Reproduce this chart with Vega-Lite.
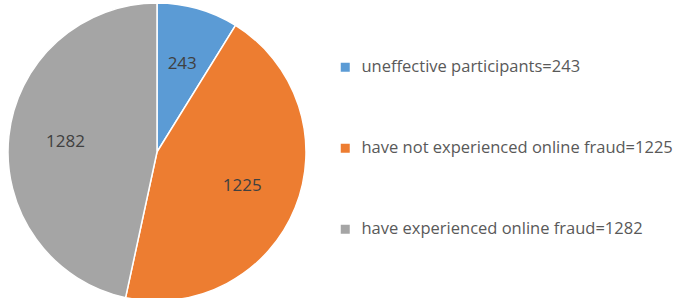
{
  "$schema": "https://vega.github.io/schema/vega-lite/v6.json",
  "width": 314,
  "height": 298,
  "autosize": {"type": "pad"},
  "padding": 0,
  "background": "white",
  "data": {
    "values": [
      {"category": "uneffective participants=243", "value": 243, "order": 1},
      {"category": "have not experienced online fraud=1225", "value": 1225, "order": 2},
      {"category": "have experienced online fraud=1282", "value": 1282, "order": 3}
    ]
  },
  "encoding": {
    "theta": {"field": "value", "type": "quantitative", "stack": true},
    "order": {"field": "order", "type": "quantitative"},
    "color": {
      "field": "category",
      "type": "nominal",
      "scale": {
        "domain": ["uneffective participants=243", "have not experienced online fraud=1225", "have experienced online fraud=1282"],
        "range": ["#5B9BD5", "#ED7D31", "#A5A5A5"]
      },
      "legend": {
        "title": null,
        "orient": "none",
        "legendX": 337,
        "legendY": 56,
        "symbolType": "square",
        "symbolSize": 81,
        "symbolStrokeWidth": 0,
        "labelFont": "Open Sans",
        "labelFontSize": 16.5,
        "labelColor": "#595959",
        "labelOffset": 8,
        "rowPadding": 64,
        "labelLimit": 400
      }
    }
  },
  "layer": [
    {
      "mark": {"type": "arc", "stroke": "white", "strokeWidth": 1.5, "outerRadius": 149}
    },
    {
      "mark": {"type": "text", "radius": 92, "font": "Open Sans", "fontSize": 17, "fill": "#404040"},
      "encoding": {
        "text": {"field": "value", "type": "quantitative"},
        "color": {"value": "#404040"}
      }
    }
  ]
}
